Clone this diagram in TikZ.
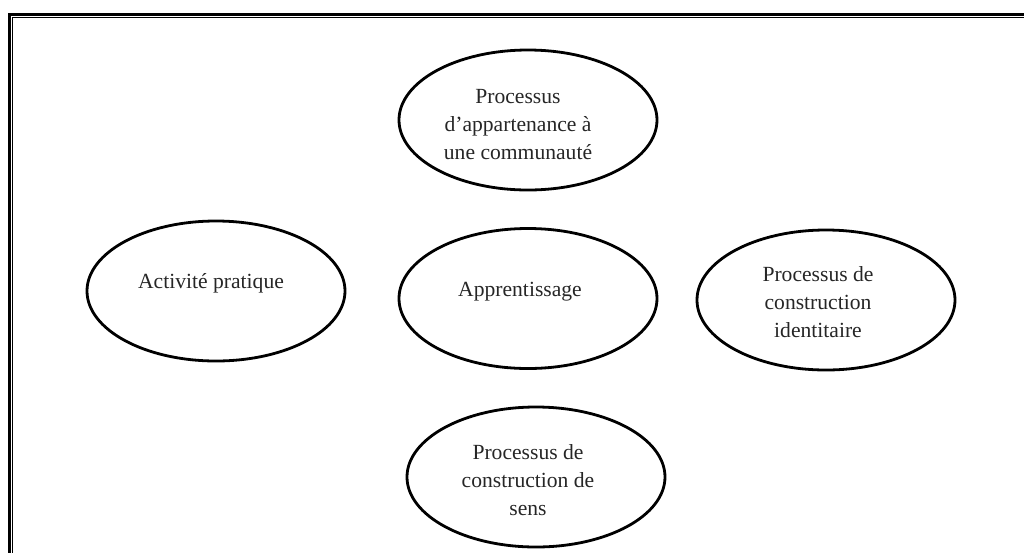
\documentclass[tikz,border=0pt]{standalone}
\usepackage{fontspec}
\setmainfont{Liberation Serif}
\usetikzlibrary{shapes,positioning}
\tikzstyle{bulle} = [
	draw,
	line width=1.4pt,
	x radius=64.5pt,
	y radius=35pt
]
\tikzstyle{texte} = [
	align=center,
	inner sep=0pt,
	text=black!85,
	font=\fontsize{10.8}{14}\selectfont
]
\tikzstyle{cadre} = [line width=1.5pt]
\tikzstyle{filet} = [line width=0.5pt]

\begin{document}
\begin{tikzpicture}[x=0.5pt,y=-0.5pt]
	\useasboundingbox (0,0) rectangle (1024,553);
	% cadre double, haut et gauche
	\coordinate (hautD) at (1024,14.5);
	\coordinate (coin) at (9.5,14.5);
	\coordinate (basG) at (9.5,553);
	\coordinate (hautD2) at (1024,17.5);
	\coordinate (coin2) at (12.5,17.5);
	\coordinate (basG2) at (12.5,553);
	\draw[cadre] (hautD) -- (coin) -- (basG);
	\draw[filet] (hautD2) -- (coin2) -- (basG2);

	\node[texte, name=app] at (520,292) {Apprentissage};
	\node[texte, name=act, left of=app, node distance=154.5pt, yshift=4.5pt] {Activité pratique};
	\node[texte, name=ident, right of=app, node distance=149pt, yshift=-5pt] {Processus de\\construction\\identitaire};
	\node[texte, name=comm, above of=app, node distance=83.5pt, xshift=-1pt] {Processus\\d’appartenance à\\une communauté};
	\node[texte, name=sens, below of=app, node distance=94pt, xshift=4pt] {Processus de\\construction de\\sens};

	\draw[bulle] ([shift={(4pt,-3.25pt)}]app.center) ellipse [];
	\draw[bulle] ([shift={(2.5pt,-4pt)}]act.center) ellipse [];
	\draw[bulle] ([shift={(4pt,1pt)}]ident.center) ellipse [];
	\draw[bulle] ([shift={(5pt,2.5pt)}]comm.center) ellipse [];
	\draw[bulle] ([shift={(4pt,1.5pt)}]sens.center) ellipse [];
\end{tikzpicture}
\end{document}
